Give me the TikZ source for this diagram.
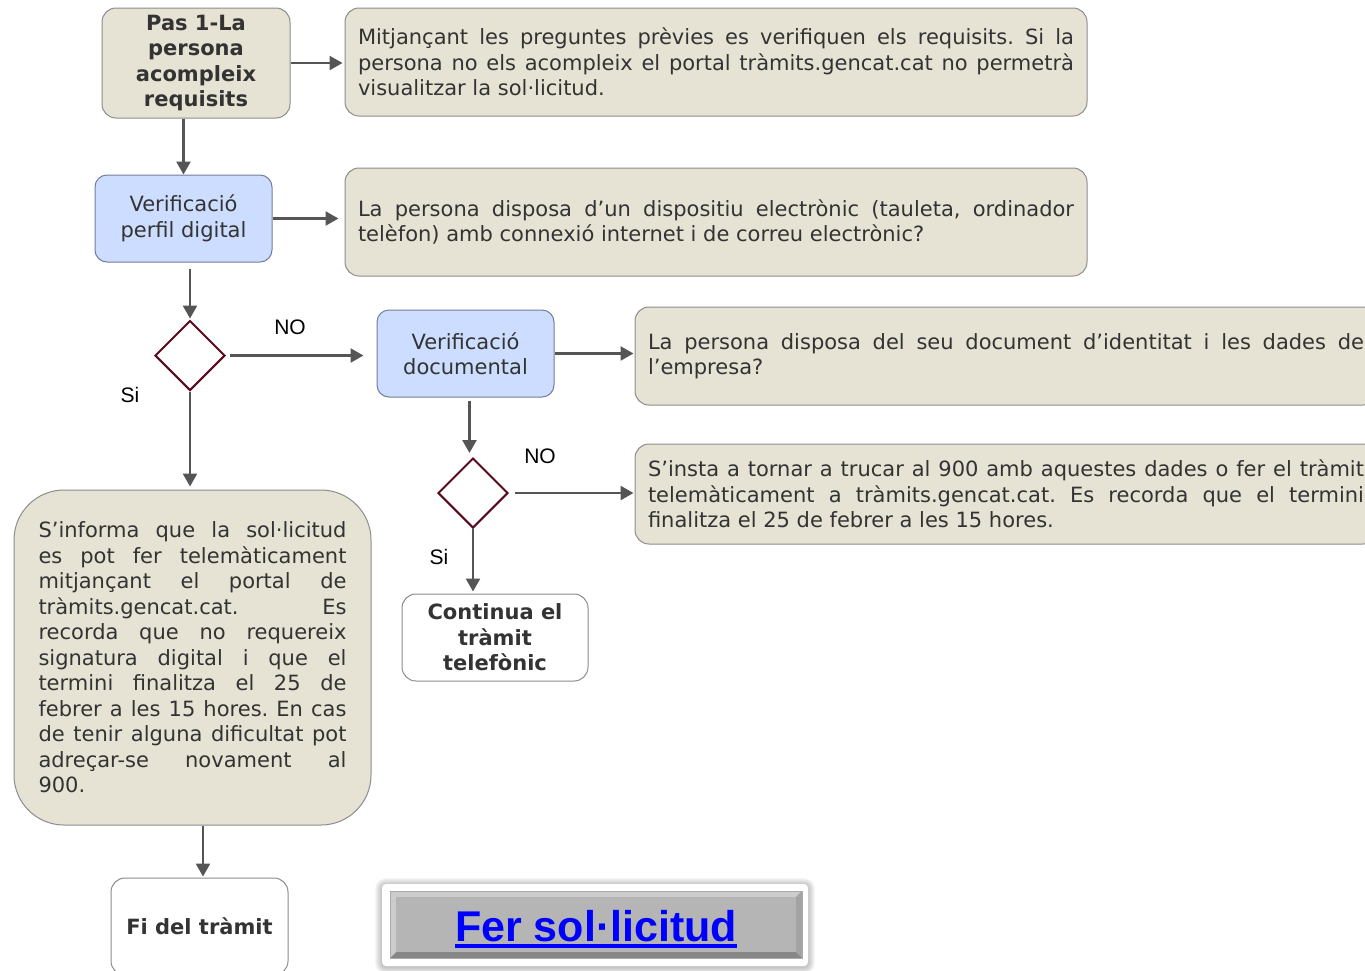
\documentclass[tikz,border=0pt]{standalone}
\usepackage{fontspec}
\setmainfont{DejaVu Sans}
\newfontfamily\arialfont{Liberation Sans}
\usetikzlibrary{shapes.geometric,arrows.meta}
\tolerance=10000
\hbadness=10000
\frenchspacing

\definecolor{boxbeige}{RGB}{230,227,212}
\definecolor{boxedge}{RGB}{140,140,140}
\definecolor{boxblue}{RGB}{204,221,255}
\definecolor{blueedge}{RGB}{115,125,155}
\definecolor{textgray}{RGB}{51,51,51}
\definecolor{arrowgray}{RGB}{85,85,85}
\definecolor{maroon}{RGB}{90,10,30}
\definecolor{linkblue}{RGB}{0,0,255}

\begin{document}
\begin{tikzpicture}[x=1pt,y=-1pt]

		\tikzstyle{base}=[rectangle,line width=1pt,text=textgray,inner sep=0pt,
			font=\fontsize{21}{25.5}\selectfont]
		\tikzstyle{stepbox}=[base,rounded corners=14pt,fill=boxbeige,draw=boxedge,
			align=center,font=\bfseries\fontsize{21}{25.5}\selectfont]
		\tikzstyle{infobox}=[base,rounded corners=14pt,fill=boxbeige,draw=boxedge,
			text width=716pt,inner xsep=13pt,align=justify]
		\tikzstyle{checkbox}=[base,rounded corners=12pt,fill=boxblue,draw=blueedge,
			align=center,minimum width=177pt,minimum height=87pt]
		\tikzstyle{endbox}=[stepbox,fill=white,draw=boxedge]
		\tikzstyle{decision}=[diamond,draw=maroon,line width=2pt,fill=white,
			minimum width=70pt,minimum height=70pt,inner sep=0pt]
		\tikzstyle{lbl}=[font=\arialfont\fontsize{21}{25}\selectfont,text=black]
		\tikzstyle{flow}=[->,>={Triangle[length=13pt,width=14pt]},line width=2.5pt,draw=arrowgray]

		\useasboundingbox (0,0) rectangle (1365,970);
		\clip (0,0) rectangle (1365,970);

		% left column
		\node[stepbox,minimum width=188pt,minimum height=110pt]	(reqs)	at (196,63)	{Pas 1-La\\persona\\acompleix\\requisits};
		\node[checkbox]	(digital)	at (183.5,218.5)	{Verificació\\perfil digital};
		\node[decision]	(dec1)	at (190,355.5)	{};
		\node[base,rounded corners=50pt,fill=boxbeige,draw=boxedge,text width=308pt,inner xsep=24.5pt,
			minimum height=335pt,align=justify]	(info)	at (192.5,657.5)
			{S’informa que la sol·licitud\linebreak es pot fer telemàticament\linebreak mitjançant el portal de\linebreak tràmits.gencat.cat. Es\linebreak recorda que no requereix\linebreak signatura digital i que el\linebreak termini finalitza el 25 de\linebreak febrer a les 15 hores. En cas\linebreak de tenir alguna dificultat pot\linebreak adreçar-se novament al\linebreak 900.};
		\node[endbox,minimum width=177pt,minimum height=97pt]	(fi)	at (199.5,926.5)	{Fi del tràmit};

		% middle column
		\node[checkbox]	(docs)	at (465.5,353.5)	{Verificació\\documental};
		\node[decision]	(dec2)	at (473,493)	{};
		\node[endbox,minimum width=186pt,minimum height=87pt]	(phone)	at (495,637.5)	{Continua el\\tràmit\\telefònic};

		% text boxes
		\node[infobox,minimum height=108pt]	(txtreqs)	at (716,62)
			{Mitjançant les preguntes prèvies es verifiquen els requisits. Si la\linebreak persona no els acompleix el portal tràmits.gencat.cat no permetrà\linebreak visualitzar la sol·licitud.};
		\node[infobox,minimum height=108pt]	(txtdigital)	at (716,222)
			{La persona disposa d’un dispositiu electrònic (tauleta, ordinador\linebreak telèfon) amb connexió internet i de correu electrònic?};
		\node[infobox,minimum height=98pt]	(txtdocs)	at (1006,356)
			{La persona disposa del seu document d’identitat i les dades de\linebreak l’empresa?};
		\node[infobox,minimum height=100pt]	(txtcall)	at (1006,494)
			{S’insta a tornar a trucar al 900 amb aquestes dades o fer el tràmit\linebreak telemàticament a tràmits.gencat.cat. Es recorda que el termini\linebreak finalitza el 25 de febrer a les 15 hores.};

		% labels
		\node[lbl]	(no1)	at (290,327)	{NO};
		\node[lbl]	(si1)	at (130,395)	{Si};
		\node[lbl]	(no2)	at (540,456)	{NO};
		\node[lbl]	(si2)	at (439,557)	{Si};

		% connectors
		\draw[flow,shorten >=2pt] (reqs.east) -- (reqs.east -| txtreqs.west);
		\draw[flow] (reqs.south -| digital.north) -- (digital.north);
		\draw[flow,shorten >=6pt] (digital.east) -- (digital.east -| txtdigital.west);
		\draw[flow,shorten <=6pt,shorten >=1pt] (digital.south -| dec1.north) -- (dec1.north);
		\draw[flow,shorten <=4pt,shorten >=13pt] (dec1.east) -- (dec1.east -| docs.west);
		\draw[flow,shorten >=3pt] (dec1.south) -- (dec1.south |- info.north);
		\draw[flow,shorten >=1pt] (docs.east) -- (docs.east -| txtdocs.west);
		\draw[flow,shorten <=3pt,shorten >=4pt] ([xshift=4pt]docs.south) -- ([xshift=4pt]docs.south |- dec2.north);
		\draw[flow,shorten <=6pt,shorten >=1pt] (dec2.east) -- (dec2.east -| txtcall.west);
		\draw[flow,shorten >=2pt] (dec2.south) -- (dec2.south |- phone.north);
		\draw[flow,shorten >=1pt] ([xshift=3.5pt]fi.north |- info.south) -- ([xshift=3.5pt]fi.north);

		% button with soft shadow
		\foreach \g in {1,...,7}
			\fill[black,opacity=0.035,rounded corners=4pt+\g pt] (382-\g,884-\g+1) rectangle (808+\g,966+\g+1);
		\node[rectangle,rounded corners=4pt,fill=white,minimum width=426pt,minimum height=82pt]	(btnframe)	at (595,925)	{};
		\fill[black!47] (390,891) rectangle (802,958);
		\fill[black!20] (390,891) -- (802,891) -- (796,897) -- (396,897) -- (396,952) -- (390,958) -- cycle;
		\fill[black!36] (802,891) -- (796,897) -- (796,952) -- (802,958) -- cycle;
		\fill[black!29] (396,897) rectangle (796,952);
		\draw[black!33,line width=1pt] (390,891) rectangle (802,958);
		\node[anchor=base,inner sep=0pt,text=linkblue,font=\arialfont\bfseries\fontsize{43}{48}\selectfont]
			(btnlink)	at (596,941)	{Fer sol·licitud};
		\draw[linkblue,line width=3.5pt] ([yshift=-5pt]btnlink.base west) -- ([yshift=-5pt]btnlink.base east);

	\end{tikzpicture}
\end{document}
